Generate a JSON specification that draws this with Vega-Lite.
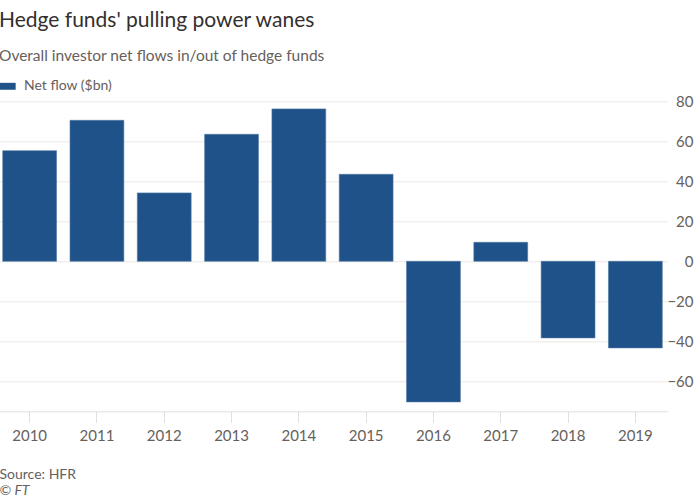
{
  "$schema": "https://vega.github.io/schema/vega-lite/v6.json",
  "width": 669,
  "height": 310,
  "autosize": {"type": "none"},
  "padding": {"left": -2, "top": 101.3, "right": 32, "bottom": 88.7},
  "background": "#ffffff",
  "title": {
    "text": "Hedge funds' pulling power wanes",
    "subtitle": "Overall investor net flows in/out of hedge funds",
    "anchor": "start",
    "frame": "group",
    "dx": 1,
    "offset": 13,
    "font": "Lato",
    "fontSize": 21,
    "fontWeight": "normal",
    "color": "#33302e",
    "subtitleFont": "Lato",
    "subtitleFontSize": 15.5,
    "subtitleColor": "#66605c",
    "subtitlePadding": 18
  },
  "data": {
    "values": [
      {"year": "2010", "flow": 55.3, "series": "Net flow ($bn)"},
      {"year": "2011", "flow": 70.5, "series": "Net flow ($bn)"},
      {"year": "2012", "flow": 34.2, "series": "Net flow ($bn)"},
      {"year": "2013", "flow": 63.5, "series": "Net flow ($bn)"},
      {"year": "2014", "flow": 76.2, "series": "Net flow ($bn)"},
      {"year": "2015", "flow": 43.5, "series": "Net flow ($bn)"},
      {"year": "2016", "flow": -70.3, "series": "Net flow ($bn)"},
      {"year": "2017", "flow": 9.5, "series": "Net flow ($bn)"},
      {"year": "2018", "flow": -38.3, "series": "Net flow ($bn)"},
      {"year": "2019", "flow": -43.3, "series": "Net flow ($bn)"}
    ]
  },
  "mark": {"type": "bar", "stroke": "#4f78a5", "strokeWidth": 0.6},
  "encoding": {
    "x": {
      "field": "year",
      "type": "ordinal",
      "scale": {"paddingInner": 0.2, "paddingOuter": 0.07},
      "axis": {
        "title": "Source: HFR",
        "titleFont": "Lato",
        "titleFontSize": 14,
        "titleFontWeight": "normal",
        "titleColor": "#66605c",
        "titleAnchor": "start",
        "titleAlign": "left",
        "titleBaseline": "alphabetic",
        "titleX": 1,
        "titleY": 67.5,
        "labelAngle": 0,
        "labelFont": "Lato",
        "labelFontSize": 15,
        "labelColor": "#66605c",
        "labelPadding": 6,
        "tickSize": 11,
        "tickColor": "#e3dfdb",
        "domainColor": "#e3dfdb",
        "grid": false
      }
    },
    "y": {
      "field": "flow",
      "type": "quantitative",
      "scale": {"domain": [-75, 80], "nice": false, "zero": false},
      "axis": {
        "orient": "right",
        "values": [-60, -40, -20, 0, 20, 40, 60, 80],
        "title": "© FT",
        "titleFont": "Lato",
        "titleFontSize": 14,
        "titleFontStyle": "italic",
        "titleFontWeight": "normal",
        "titleColor": "#66605c",
        "titleAngle": 0,
        "titleAlign": "left",
        "titleBaseline": "alphabetic",
        "titleX": -668,
        "titleY": 393,
        "labelFont": "Lato",
        "labelFontSize": 15,
        "labelColor": "#66605c",
        "labelAlign": "right",
        "labelBaseline": "middle",
        "labelPadding": 26,
        "ticks": false,
        "tickSize": 0,
        "domain": false,
        "grid": true,
        "gridColor": "#ebe8e5",
        "gridWidth": 1
      }
    },
    "color": {
      "field": "series",
      "type": "nominal",
      "scale": {"range": ["#1e5288"]},
      "legend": {
        "title": null,
        "orient": "none",
        "legendX": 0,
        "legendY": -24,
        "symbolType": "M-1,-0.4H1V0.4H-1Z",
        "symbolSize": 300,
        "symbolStrokeWidth": 0,
        "labelFont": "Lato",
        "labelFontSize": 14,
        "labelColor": "#66605c",
        "labelOffset": 8,
        "padding": 0
      }
    }
  },
  "config": {"view": {"stroke": null}}
}
